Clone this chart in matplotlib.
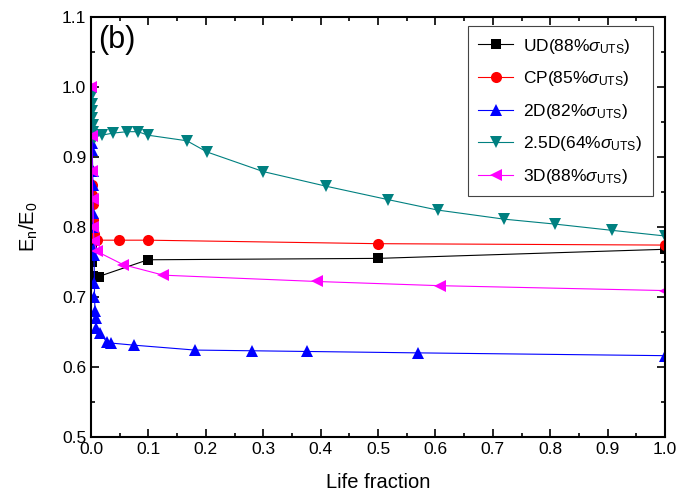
import matplotlib
matplotlib.use("Agg")
import matplotlib.pyplot as plt
from matplotlib.ticker import MultipleLocator

plt.rcParams['font.family'] = ['Liberation Sans', 'DejaVu Sans']
plt.rcParams['mathtext.fontset'] = 'custom'
plt.rcParams['mathtext.rm'] = 'Liberation Sans'
plt.rcParams['mathtext.it'] = 'Liberation Sans:italic'

# UD (88% sigma_UTS)
ud_x = [0.0, 0.001, 0.002, 0.003, 0.013, 0.099, 0.5, 1.0]
ud_y = [0.80, 0.77, 0.75, 0.73, 0.729, 0.753, 0.755, 0.768]

# CP (85% sigma_UTS)
cp_x = [0.0, 0.001, 0.002, 0.003, 0.003, 0.004, 0.005, 0.006, 0.01, 0.049, 0.099, 0.5, 1.0]
cp_y = [0.88, 0.86, 0.845, 0.833, 0.81, 0.80, 0.79, 0.784, 0.781, 0.781, 0.781, 0.776, 0.774]

# 2D (82% sigma_UTS)
d2_x = [0.0, 0.001, 0.002, 0.003, 0.003, 0.004, 0.004, 0.005, 0.005, 0.006, 0.006, 0.007,
        0.008, 0.009, 0.016, 0.027, 0.035, 0.075, 0.181, 0.28, 0.376, 0.569, 1.0]
d2_y = [1.0, 0.92, 0.91, 0.88, 0.86, 0.82, 0.80, 0.77, 0.76, 0.72, 0.70, 0.68,
        0.67, 0.655, 0.648, 0.636, 0.634, 0.631, 0.624, 0.623, 0.622, 0.620, 0.616]

# 2.5D (64% sigma_UTS)
d25_x = [0.0, 0.001, 0.002, 0.002, 0.003, 0.004, 0.005, 0.007, 0.019, 0.038, 0.063, 0.082,
         0.099, 0.167, 0.202, 0.30, 0.41, 0.517, 0.604, 0.72, 0.808, 0.908, 1.0]
d25_y = [0.985, 0.975, 0.965, 0.955, 0.945, 0.935, 0.927, 0.929, 0.931, 0.934, 0.936, 0.936,
         0.931, 0.923, 0.907, 0.879, 0.858, 0.839, 0.824, 0.811, 0.804, 0.795, 0.787]

# 3D (88% sigma_UTS)
d3_x = [0.0, 0.001, 0.002, 0.003, 0.004, 0.005, 0.01, 0.056, 0.126, 0.393, 0.607, 1.0]
d3_y = [1.0, 0.93, 0.88, 0.84, 0.80, 0.78, 0.765, 0.746, 0.731, 0.722, 0.716, 0.709]

series = [
    (ud_x, ud_y, 'black', 's', 7, r'UD(88%$\sigma_{\mathrm{UTS}}$)'),
    (cp_x, cp_y, 'red', 'o', 8, r'CP(85%$\sigma_{\mathrm{UTS}}$)'),
    (d2_x, d2_y, 'blue', '^', 9, r'2D(82%$\sigma_{\mathrm{UTS}}$)'),
    (d25_x, d25_y, '#008080', 'v', 9, r'2.5D(64%$\sigma_{\mathrm{UTS}}$)'),
    (d3_x, d3_y, '#ff00ff', '<', 9, r'3D(88%$\sigma_{\mathrm{UTS}}$)'),
]

fig = plt.figure(figsize=(6.95, 4.97), dpi=100)
ax = fig.add_axes([0.131, 0.121, 0.826, 0.845])

for x, y, c, m, ms, lab in series:
    ax.plot(x, y, color=c, marker=m, markersize=ms, linewidth=0.8, label=lab,
            markeredgewidth=0)

ax.set_xlim(0, 1.0)
ax.set_ylim(0.5, 1.1)
ax.xaxis.set_major_locator(MultipleLocator(0.1))
ax.xaxis.set_minor_locator(MultipleLocator(0.05))
ax.yaxis.set_major_locator(MultipleLocator(0.1))
ax.yaxis.set_minor_locator(MultipleLocator(0.05))
ax.tick_params(which='both', direction='in', top=True, right=True, labelsize=12.5)
ax.tick_params(which='major', length=6, width=1.2)
ax.tick_params(which='minor', length=3, width=1.2)
ax.xaxis.set_major_formatter(plt.FormatStrFormatter('%.1f'))
ax.yaxis.set_major_formatter(plt.FormatStrFormatter('%.1f'))
for s in ax.spines.values():
    s.set_linewidth(1.5)

ax.set_xlabel('Life fraction', fontsize=14.5, labelpad=12)
ax.set_ylabel(r'E$_\mathrm{n}$/E$_\mathrm{0}$', fontsize=14.5, labelpad=16)
ax.text(0.012, 1.088, '(b)', fontsize=22, va='top', ha='left')

leg = ax.legend(loc='upper right', bbox_to_anchor=(0.979, 0.978), fontsize=12.5,
                fancybox=False, edgecolor='#444444', framealpha=1,
                handlelength=2.0, handletextpad=0.6, labelspacing=0.78,
                borderpad=0.6, borderaxespad=0)
leg.get_frame().set_linewidth(0.8)

fig.savefig('out.png', dpi=100)
